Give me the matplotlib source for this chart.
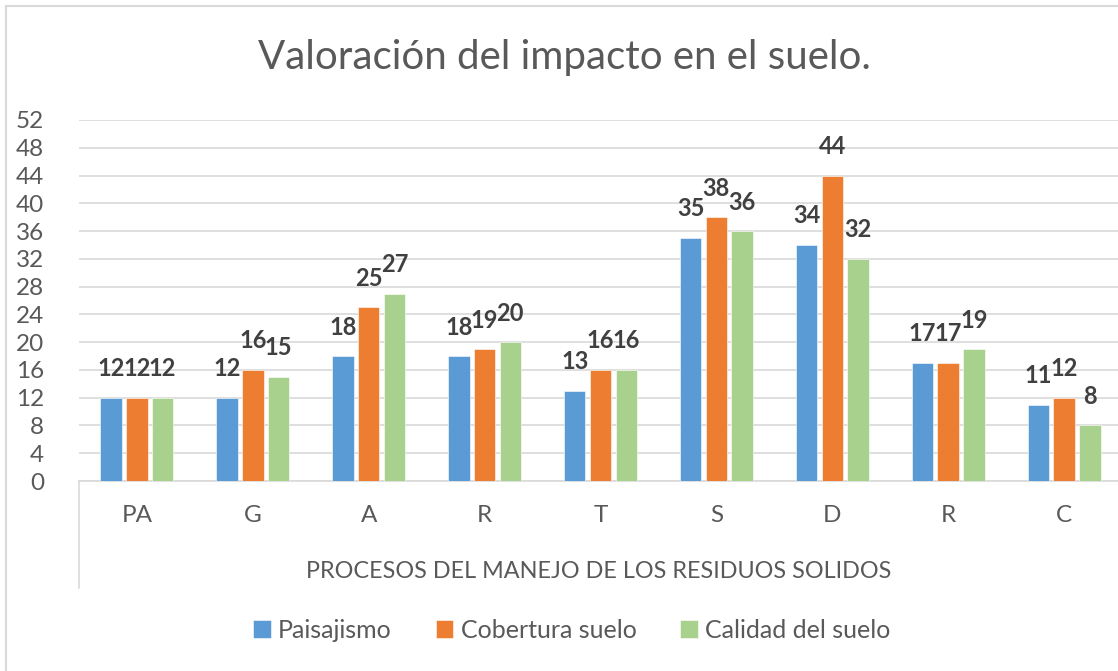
import matplotlib
matplotlib.use("Agg")
import matplotlib.pyplot as plt
import numpy as np
from matplotlib.lines import Line2D

categories = ["PA", "G", "A", "R", "T", "S", "D", "R", "C"]
series_names = ["Paisajismo", "Cobertura suelo", "Calidad del suelo"]
paisajismo = [12, 12, 18, 18, 13, 35, 34, 17, 11]
cobertura = [12, 16, 25, 19, 16, 38, 44, 17, 12]
calidad = [12, 15, 27, 20, 16, 36, 32, 19, 8]
colors = ["#5B9BD5", "#ED7D31", "#A9D18E"]
yticks = list(range(0, 53, 4))
title = "Valoración del impacto en el suelo."
xlabel = "PROCESOS DEL MANEJO DE LOS RESIDUOS SOLIDOS"

plt.rcParams['font.family'] = ['Lato', 'DejaVu Sans']
W, H = 1118, 671
fig = plt.figure(figsize=(W / 100, H / 100), dpi=100)

left, right, top, bottom = 79, 1122, 120, 481
ax = fig.add_axes([left / W, 1 - bottom / H, (right - left) / W, (bottom - top) / H])

x = np.arange(len(categories))
bw = 0.185
step = 0.222
data = [paisajismo, cobertura, calidad]
for i, (vals, c, name) in enumerate(zip(data, colors, series_names)):
    pos = x + (i - 1) * step
    ax.bar(pos, vals, width=bw, color=c, label=name, zorder=3,
           edgecolor="white", linewidth=0.4)
    for p, v in zip(pos, vals):
        ax.annotate(str(v), (p, v), xytext=(0, 15.5), textcoords="offset points",
                    ha="center", va="baseline", fontsize=17, fontweight="bold",
                    color="#404040", zorder=4)

ax.set_xlim(-0.5, len(categories) - 0.5)
ax.set_ylim(0, 52)
ax.set_yticks(yticks)
ax.set_yticklabels([str(t) for t in yticks], fontsize=17.5, color="#595959")
ax.yaxis.grid(True, color="#D9D9D9", linewidth=1.2, zorder=0)
ax.set_axisbelow(True)
for s in ["top", "right", "left"]:
    ax.spines[s].set_visible(False)
ax.spines["bottom"].set_color("#D9D9D9")
ax.spines["bottom"].set_linewidth(1.2)
ax.tick_params(axis="y", length=0, pad=25)
ax.tick_params(axis="x", length=0, pad=17)
ax.set_xticks(x)
ax.set_xticklabels(categories, fontsize=17.5, color="#595959")

# vertical line of category axis area
fig.add_artist(Line2D([left / W, left / W], [1 - bottom / H, 1 - 588 / H],
                      color="#D9D9D9", linewidth=1.2))
# chart border (left and top visible)
fig.add_artist(Line2D([6 / W, 6 / W], [0, 1 - 6 / H], color="#D9D9D9", linewidth=1.5))
fig.add_artist(Line2D([6 / W, 1], [1 - 6 / H, 1 - 6 / H], color="#D9D9D9", linewidth=1.5))

fig.text(564 / W, 1 - 57 / H, title, ha="center", va="center", fontsize=29, color="#595959")
fig.text(599 / W, 1 - 572 / H, xlabel, ha="center", va="center", fontsize=16.8, color="#595959")

handles, labels = ax.get_legend_handles_labels()
leg = fig.legend(handles, labels, loc="center", bbox_to_anchor=(572 / W, 1 - 630 / H),
                 ncol=3, frameon=False, fontsize=18, handlelength=0.7, handleheight=0.7,
                 handletextpad=0.3, columnspacing=1.75, labelcolor="#595959")

fig.savefig("out.png", dpi=100)
